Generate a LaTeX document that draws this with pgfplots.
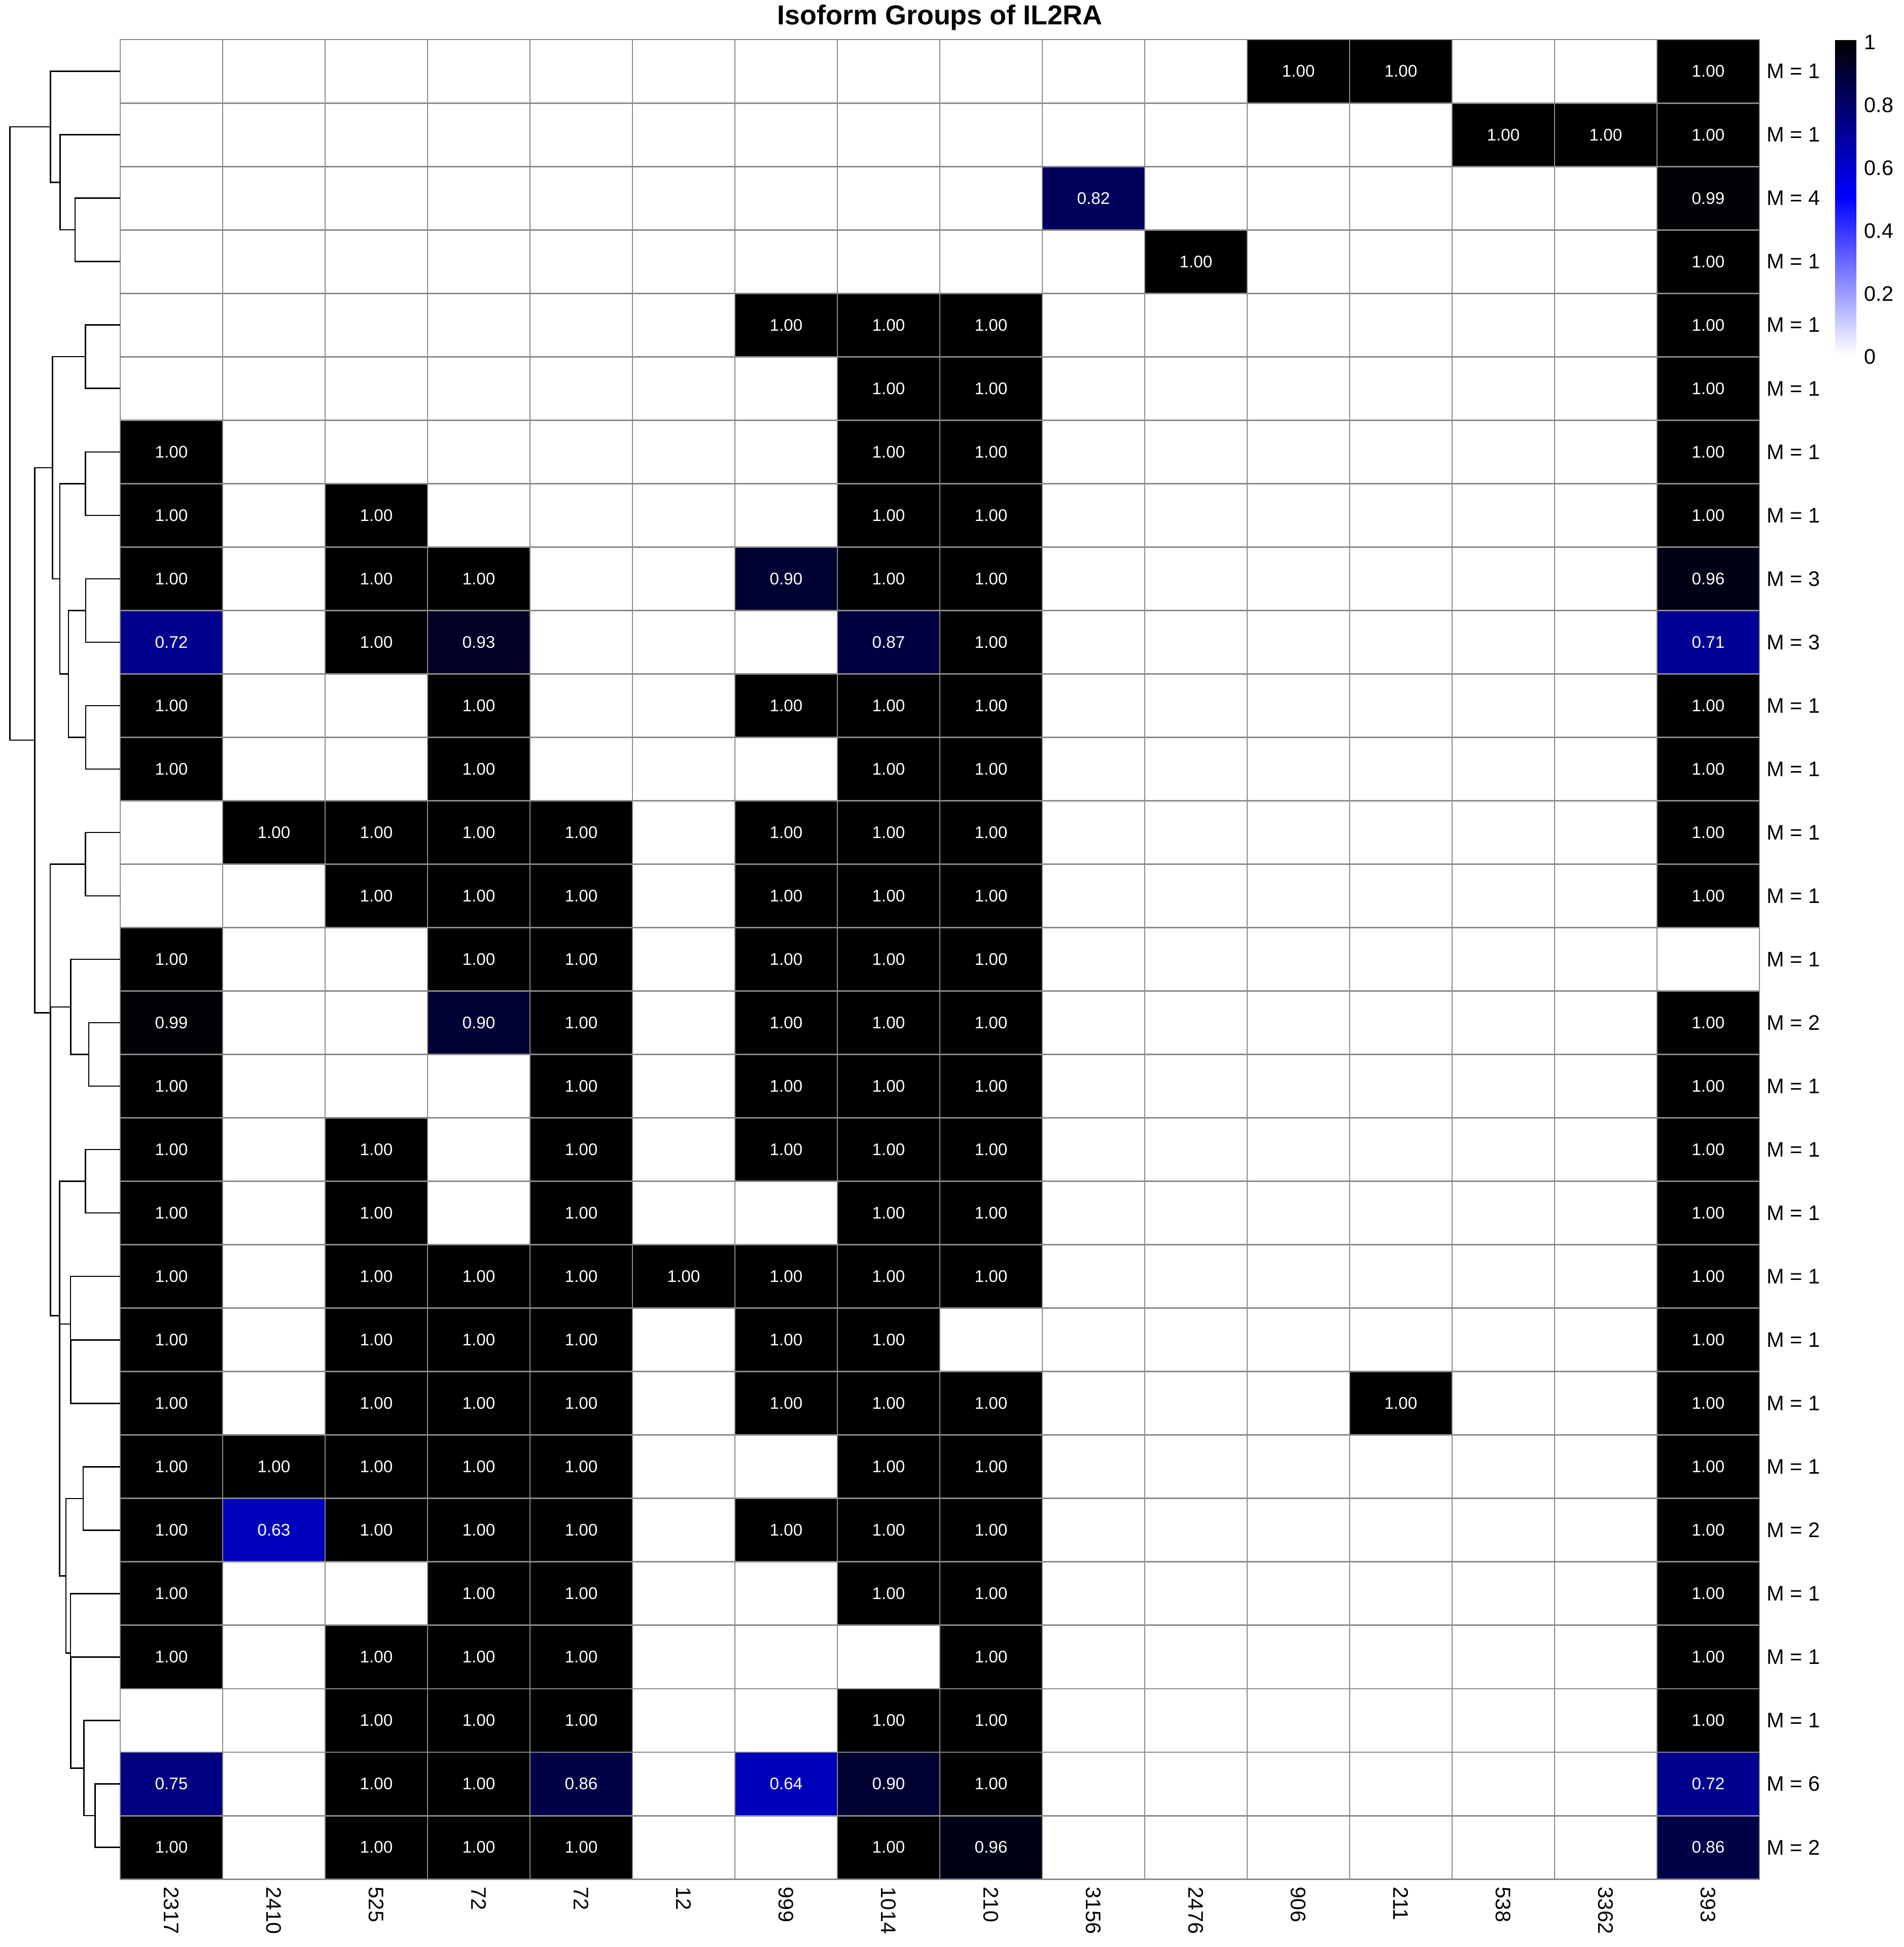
\documentclass[border=0pt]{standalone}
\usepackage{pgfplots}
\pgfplotsset{compat=1.18}
\usepackage{pgfplotstable}
\usepackage{fontspec}
\setmainfont{Liberation Sans}
\definecolor{gridgray}{RGB}{138,138,138}
\def\u{0.2409pt}
\pgfplotstableread{
x y v
0 1 0
1 1 0
2 1 0
3 1 0
4 1 0
5 1 0
6 1 0
7 1 0
8 1 0
9 1 0
10 1 0
11 1 1
12 1 1
13 1 0
14 1 0
15 1 1
0 2 0
1 2 0
2 2 0
3 2 0
4 2 0
5 2 0
6 2 0
7 2 0
8 2 0
9 2 0
10 2 0
11 2 0
12 2 0
13 2 1
14 2 1
15 2 1
0 3 0
1 3 0
2 3 0
3 3 0
4 3 0
5 3 0
6 3 0
7 3 0
8 3 0
9 3 0.82
10 3 0
11 3 0
12 3 0
13 3 0
14 3 0
15 3 0.99
0 4 0
1 4 0
2 4 0
3 4 0
4 4 0
5 4 0
6 4 0
7 4 0
8 4 0
9 4 0
10 4 1
11 4 0
12 4 0
13 4 0
14 4 0
15 4 1
0 5 0
1 5 0
2 5 0
3 5 0
4 5 0
5 5 0
6 5 1
7 5 1
8 5 1
9 5 0
10 5 0
11 5 0
12 5 0
13 5 0
14 5 0
15 5 1
0 6 0
1 6 0
2 6 0
3 6 0
4 6 0
5 6 0
6 6 0
7 6 1
8 6 1
9 6 0
10 6 0
11 6 0
12 6 0
13 6 0
14 6 0
15 6 1
0 7 1
1 7 0
2 7 0
3 7 0
4 7 0
5 7 0
6 7 0
7 7 1
8 7 1
9 7 0
10 7 0
11 7 0
12 7 0
13 7 0
14 7 0
15 7 1
0 8 1
1 8 0
2 8 1
3 8 0
4 8 0
5 8 0
6 8 0
7 8 1
8 8 1
9 8 0
10 8 0
11 8 0
12 8 0
13 8 0
14 8 0
15 8 1
0 9 1
1 9 0
2 9 1
3 9 1
4 9 0
5 9 0
6 9 0.90
7 9 1
8 9 1
9 9 0
10 9 0
11 9 0
12 9 0
13 9 0
14 9 0
15 9 0.96
0 10 0.72
1 10 0
2 10 1
3 10 0.93
4 10 0
5 10 0
6 10 0
7 10 0.87
8 10 1
9 10 0
10 10 0
11 10 0
12 10 0
13 10 0
14 10 0
15 10 0.71
0 11 1
1 11 0
2 11 0
3 11 1
4 11 0
5 11 0
6 11 1
7 11 1
8 11 1
9 11 0
10 11 0
11 11 0
12 11 0
13 11 0
14 11 0
15 11 1
0 12 1
1 12 0
2 12 0
3 12 1
4 12 0
5 12 0
6 12 0
7 12 1
8 12 1
9 12 0
10 12 0
11 12 0
12 12 0
13 12 0
14 12 0
15 12 1
0 13 0
1 13 1
2 13 1
3 13 1
4 13 1
5 13 0
6 13 1
7 13 1
8 13 1
9 13 0
10 13 0
11 13 0
12 13 0
13 13 0
14 13 0
15 13 1
0 14 0
1 14 0
2 14 1
3 14 1
4 14 1
5 14 0
6 14 1
7 14 1
8 14 1
9 14 0
10 14 0
11 14 0
12 14 0
13 14 0
14 14 0
15 14 1
0 15 1
1 15 0
2 15 0
3 15 1
4 15 1
5 15 0
6 15 1
7 15 1
8 15 1
9 15 0
10 15 0
11 15 0
12 15 0
13 15 0
14 15 0
15 15 0
0 16 0.99
1 16 0
2 16 0
3 16 0.90
4 16 1
5 16 0
6 16 1
7 16 1
8 16 1
9 16 0
10 16 0
11 16 0
12 16 0
13 16 0
14 16 0
15 16 1
0 17 1
1 17 0
2 17 0
3 17 0
4 17 1
5 17 0
6 17 1
7 17 1
8 17 1
9 17 0
10 17 0
11 17 0
12 17 0
13 17 0
14 17 0
15 17 1
0 18 1
1 18 0
2 18 1
3 18 0
4 18 1
5 18 0
6 18 1
7 18 1
8 18 1
9 18 0
10 18 0
11 18 0
12 18 0
13 18 0
14 18 0
15 18 1
0 19 1
1 19 0
2 19 1
3 19 0
4 19 1
5 19 0
6 19 0
7 19 1
8 19 1
9 19 0
10 19 0
11 19 0
12 19 0
13 19 0
14 19 0
15 19 1
0 20 1
1 20 0
2 20 1
3 20 1
4 20 1
5 20 1
6 20 1
7 20 1
8 20 1
9 20 0
10 20 0
11 20 0
12 20 0
13 20 0
14 20 0
15 20 1
0 21 1
1 21 0
2 21 1
3 21 1
4 21 1
5 21 0
6 21 1
7 21 1
8 21 0
9 21 0
10 21 0
11 21 0
12 21 0
13 21 0
14 21 0
15 21 1
0 22 1
1 22 0
2 22 1
3 22 1
4 22 1
5 22 0
6 22 1
7 22 1
8 22 1
9 22 0
10 22 0
11 22 0
12 22 1
13 22 0
14 22 0
15 22 1
0 23 1
1 23 1
2 23 1
3 23 1
4 23 1
5 23 0
6 23 0
7 23 1
8 23 1
9 23 0
10 23 0
11 23 0
12 23 0
13 23 0
14 23 0
15 23 1
0 24 1
1 24 0.63
2 24 1
3 24 1
4 24 1
5 24 0
6 24 1
7 24 1
8 24 1
9 24 0
10 24 0
11 24 0
12 24 0
13 24 0
14 24 0
15 24 1
0 25 1
1 25 0
2 25 0
3 25 1
4 25 1
5 25 0
6 25 0
7 25 1
8 25 1
9 25 0
10 25 0
11 25 0
12 25 0
13 25 0
14 25 0
15 25 1
0 26 1
1 26 0
2 26 1
3 26 1
4 26 1
5 26 0
6 26 0
7 26 0
8 26 1
9 26 0
10 26 0
11 26 0
12 26 0
13 26 0
14 26 0
15 26 1
0 27 0
1 27 0
2 27 1
3 27 1
4 27 1
5 27 0
6 27 0
7 27 1
8 27 1
9 27 0
10 27 0
11 27 0
12 27 0
13 27 0
14 27 0
15 27 1
0 28 0.75
1 28 0
2 28 1
3 28 1
4 28 0.86
5 28 0
6 28 0.64
7 28 0.90
8 28 1
9 28 0
10 28 0
11 28 0
12 28 0
13 28 0
14 28 0
15 28 0.72
0 29 1
1 29 0
2 29 1
3 29 1
4 29 1
5 29 0
6 29 0
7 29 1
8 29 0.96
9 29 0
10 29 0
11 29 0
12 29 0
13 29 0
14 29 0
15 29 0.86
}\cells
\pgfplotsset{dend/.style={black, line width=0.6pt, mark=none, solid}}
\begin{document}
\begin{tikzpicture}
\useasboundingbox (0,0) rectangle (3753*\u,-3838*\u);
% ---------------- heatmap ----------------
\begin{axis}[
  name=heat,
  at={(237*\u,-78*\u)}, anchor=north west,
  scale only axis, width=3232*\u, height=3626*\u,
  xmin=-0.5, xmax=15.5, ymin=0.5, ymax=29.5, y dir=reverse,
  enlargelimits=false,
  colormap={wbk}{rgb255=(255,255,255) rgb255=(0,0,255) rgb255=(0,0,0)},
  point meta min=0, point meta max=1,
  xtick={0,...,15},
  xticklabels={2317,2410,525,72,72,12,999,1014,210,3156,2476,906,211,538,3362,393},
  ytick={1,...,29},
  yticklabels={M = 1,M = 1,M = 4,M = 1,M = 1,M = 1,M = 1,M = 1,M = 3,M = 3,M = 1,M = 1,M = 1,M = 1,M = 1,M = 2,M = 1,M = 1,M = 1,M = 1,M = 1,M = 1,M = 1,M = 2,M = 1,M = 1,M = 1,M = 6,M = 2},
  xticklabel pos=lower,
  yticklabel pos=right,
  major tick length=0pt, minor tick length=0pt,
  minor xtick={-0.5,0.5,...,15.5},
  minor ytick={0.5,1.5,...,29.5},
  xminorgrids=true, yminorgrids=true,
  minor grid style={draw=gridgray, line width=0.7pt},
  axis on top,
  axis line style={draw=gridgray, line width=0.7pt},
  xticklabel style={rotate=-90, anchor=west, inner sep=0pt, font=\fontsize{10}{12}\selectfont},
  xticklabel shift=3.6pt,
  yticklabel style={anchor=west, inner sep=0pt, font=\fontsize{10}{12}\selectfont},
  yticklabel shift=3.2pt,
  title={Isoform Groups of IL2RA},
  every axis title/.style={at={(0.5,1)}, anchor=base, yshift=30*\u, inner sep=0pt, font=\bfseries\fontsize{13}{15.6}\selectfont},
  colorbar shift/.style={},
  colorbar,
  colorbar style={
    at={(parent axis.north east)}, anchor=north west,
    xshift=149*\u, yshift=-1*\u,
    scale only axis, width=42*\u, height=620*\u,
    axis line style={draw=none},
    major tick length=0pt,
    ytick={0,0.2,0.4,0.6,0.8,1},
    yticklabels={0,0.2,0.4,0.6,0.8,1},
    yticklabel pos=right,
    yticklabel style={anchor=west, inner sep=0pt, yshift=-1pt, font=\fontsize{10}{12}\selectfont},
    yticklabel shift=3.6pt,
  },
]
\addplot[matrix plot*, mesh/cols=16, point meta=\thisrow{v}] table[x=x, y=y] {\cells};
\addplot[only marks, mark=none, point meta=\thisrow{v},
  restrict expr to domain={\thisrow{v}}{0.001:2},
  nodes near coords={\pgfmathprintnumber[fixed, fixed zerofill, precision=2, assume math mode=true]{\pgfplotspointmeta}},
  nodes near coords style={anchor=center, text=white, inner sep=0pt, font=\fontsize{8}{9.6}\selectfont}]
  table[x=x, y=y] {\cells};
\end{axis}
% ---------------- dendrogram ----------------
\begin{axis}[
  at={(0,-78*\u)}, anchor=north west,
  scale only axis, width=237*\u, height=3626*\u,
  xmin=0, xmax=237, ymin=0.5, ymax=29.5, y dir=reverse,
  hide axis, clip=false,
]
\addplot[dend] coordinates {(237,3) (148,3) (148,4) (237,4)};
\addplot[dend] coordinates {(237,2) (118.6,2) (118.6,3.5) (148,3.5)};
\addplot[dend] coordinates {(237,1) (99.5,1) (99.5,2.75) (118.6,2.75)};
\addplot[dend] coordinates {(237,5) (168.3,5) (168.3,6) (237,6)};
\addplot[dend] coordinates {(237,7) (168.3,7) (168.3,8) (237,8)};
\addplot[dend] coordinates {(237,9) (169,9) (169,10) (237,10)};
\addplot[dend] coordinates {(237,11) (169,11) (169,12) (237,12)};
\addplot[dend] coordinates {(169,9.5) (135,9.5) (135,11.5) (169,11.5)};
\addplot[dend] coordinates {(168.3,7.5) (118,7.5) (118,10.5) (135,10.5)};
\addplot[dend] coordinates {(168.3,5.5) (103.3,5.5) (103.3,9) (118,9)};
\addplot[dend] coordinates {(237,13) (168.3,13) (168.3,14) (237,14)};
\addplot[dend] coordinates {(237,16) (175,16) (175,17) (237,17)};
\addplot[dend] coordinates {(237,15) (139.3,15) (139.3,16.5) (175,16.5)};
\addplot[dend] coordinates {(237,18) (168.3,18) (168.3,19) (237,19)};
\addplot[dend] coordinates {(237,21) (139.5,21) (139.5,22) (237,22)};
\addplot[dend] coordinates {(237,20) (139.2,20) (139.2,21.5) (139.5,21.5)};
\addplot[dend] coordinates {(237,23) (164,23) (164,24) (237,24)};
\addplot[dend] coordinates {(237,28) (187.7,28) (187.7,29) (237,29)};
\addplot[dend] coordinates {(237,27) (165.7,27) (165.7,28.5) (187.7,28.5)};
\addplot[dend] coordinates {(237,26) (139.5,26) (139.5,27.75) (165.7,27.75)};
\addplot[dend] coordinates {(237,25) (139.2,25) (139.2,26.875) (139.5,26.875)};
\addplot[dend] coordinates {(164,23.5) (130,23.5) (130,25.9375) (139.2,25.9375)};
\addplot[dend] coordinates {(139.2,20.75) (117.5,20.75) (117.5,24.71875) (130,24.71875)};
\addplot[dend] coordinates {(168.3,18.5) (117.3,18.5) (117.3,22.734375) (117.5,22.734375)};
\addplot[dend] coordinates {(139.3,15.75) (99.5,15.75) (99.5,20.6171875) (117.3,20.6171875)};
\addplot[dend] coordinates {(168.3,13.5) (99.2,13.5) (99.2,18.18359) (99.5,18.18359)};
\addplot[dend] coordinates {(103.3,7.25) (68.5,7.25) (68.5,15.8418) (99.2,15.8418)};
\addplot[dend] coordinates {(99.5,1.875) (19.5,1.875) (19.5,11.5459) (68.5,11.5459)};
\end{axis}
\end{tikzpicture}
\end{document}
